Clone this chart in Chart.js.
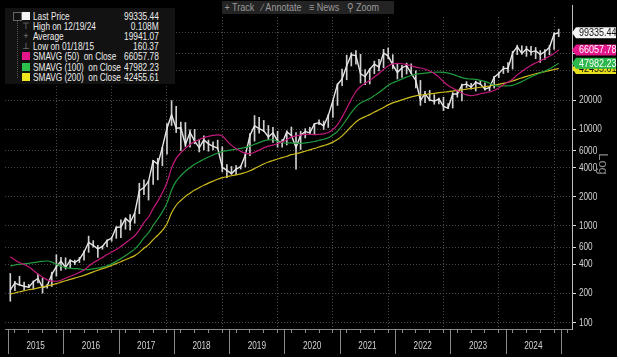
<!DOCTYPE html>
<html>
<head>
<meta charset="utf-8">
<script src="https://cdn.jsdelivr.net/npm/chart.js@4.4.1/dist/chart.umd.min.js"></script>
<style>
  html, body { margin: 0; padding: 0; background: #fff; }
  #wrap { position: absolute; left: 0; top: 0; width: 617px; height: 357px; background: #000; overflow: hidden; }
  #c { position: absolute; left: 0; top: 0; }
  .nar { display: inline-block; white-space: nowrap; transform: scaleX(0.75); transform-origin: left center; }
  .narR { display: inline-block; white-space: nowrap; transform: scaleX(0.76); transform-origin: right center; }
  #toolbar { position: absolute; left: 222px; top: 1px; height: 13px; width: 172px; background: #232323;
             color: #9a9a9a; font: 11px "Liberation Sans", Arial, sans-serif; line-height: 13px; }
  #toolbar .nar { transform: scaleX(0.82); }
  #legend { position: absolute; left: 5px; top: 8px; width: 170px; height: 76px; background: #121212;
            color: #ececec; font: 11px "Liberation Sans", Arial, sans-serif; }
  #legend .row { position: absolute; left: 0; width: 170px; height: 10px; line-height: 10px; }
  #legend .ico { position: absolute; left: 17px; top: 1px; width: 8px; height: 8px; }
  #legend .sym { position: absolute; left: 17px; top: 0; width: 8px; text-align: center; color: #888; font-size: 9px; }
  #legend .lab { position: absolute; left: 28px; top: 0; }
  #legend .val { position: absolute; right: 16px; top: 0; text-align: right; }
  #tree { position: absolute; left: 12px; top: 10px; width: 0; height: 60px; border-left: 1px dotted #555; }
  #treebox { position: absolute; left: 8px; top: 4px; width: 7px; height: 7px; border: 1px solid #666; background: #121212; }
</style>
</head>
<body>
<div id="wrap">
  <canvas id="c" width="617" height="357"></canvas>
  <div id="toolbar"><span class="nar">&nbsp;+ Track &nbsp;&nbsp;&#8725; Annotate &nbsp;&nbsp;&#8801; News &nbsp;&nbsp;&#9906; Zoom</span></div>
  <div id="legend"><div id="tree"></div><div id="treebox"></div></div>
</div>
<script>
// monthly bars, Jan 2015 .. Dec 2024
var startYear = 2015;
var yearLabels = ["2015", "2016", "2017", "2018", "2019", "2020", "2021", "2022", "2023", "2024"];

var closes = [
  217, 254, 244, 236, 230, 263, 284, 230, 236, 314, 377, 430,
  369, 437, 416, 448, 531, 673, 624, 575, 609, 700, 745, 964,
  970, 1190, 1080, 1350, 2300, 2480, 2880, 4700, 4340, 6470, 10200, 14100,
  10200, 10300, 6900, 9250, 7500, 6400, 7730, 7030, 6630, 6370, 4020, 3740,
  3460, 3850, 4100, 5350, 8570, 10800, 10100, 9600, 8300, 9150, 7550, 7190,
  9350, 8600, 6440, 8660, 9460, 9140, 11350, 11650, 10780, 13800, 19700, 29000,
  33100, 45200, 58900, 57700, 37300, 35000, 41600, 47100, 43800, 61300, 57000, 46300,
  38500, 43200, 45500, 37700, 31800, 19800, 23300, 20000, 19400, 20500, 17200, 16500,
  23100, 23100, 28500, 29200, 27200, 30500, 29200, 25900, 27000, 34500, 37700, 42300,
  42600, 61200, 71300, 60600, 67500, 62700, 64600, 59000, 63300, 70200, 96400, 99335
];
var highs = [
  320, 265, 300, 260, 247, 268, 316, 285, 245, 330, 500, 470,
  465, 445, 440, 470, 550, 780, 700, 625, 615, 715, 750, 975,
  1150, 1200, 1300, 1350, 2750, 2990, 2920, 4760, 4980, 6470, 11400, 19700,
  17200, 11800, 11700, 9800, 9950, 7760, 8500, 7700, 7400, 7680, 6550, 4300,
  4100, 4200, 4150, 5600, 9000, 13800, 13200, 12300, 10900, 10400, 9500, 7800,
  9600, 10500, 9200, 9500, 10100, 10400, 11450, 12500, 12100, 14100, 19900, 29300,
  41900, 58300, 61700, 64800, 59500, 41300, 42300, 50500, 52900, 67000, 69000, 59000,
  47900, 45800, 48200, 47400, 40000, 31900, 24600, 25200, 22700, 20900, 21400, 18400,
  23900, 25200, 29200, 31000, 29800, 31400, 31800, 30200, 27500, 35200, 38400, 44700,
  48900, 64000, 73800, 72800, 71900, 72000, 70000, 65000, 66500, 73600, 99600, 108300
];
var lows = [
  165, 212, 240, 215, 228, 220, 255, 200, 225, 235, 300, 345,
  355, 365, 395, 415, 440, 530, 600, 470, 570, 605, 690, 740,
  750, 920, 900, 1060, 1330, 2100, 1840, 2680, 2980, 4170, 5500, 10900,
  9200, 6000, 6600, 6500, 7050, 5800, 6100, 5900, 6100, 6200, 3600, 3150,
  3400, 3400, 3850, 4050, 5300, 7500, 9100, 9400, 7800, 7300, 6500, 6500,
  6850, 8500, 3850, 6150, 8100, 8900, 8900, 11100, 9900, 10400, 13200, 17600,
  28100, 32400, 45000, 47000, 30000, 28800, 29300, 37400, 40000, 43300, 53500, 42000,
  33000, 34300, 37200, 37600, 26700, 17600, 18800, 19600, 18100, 18200, 15500, 16300,
  16500, 21400, 19600, 26900, 25900, 24800, 28900, 25300, 24900, 26600, 34100, 37600,
  38500, 41900, 59000, 59600, 56600, 58400, 53500, 49000, 52600, 58900, 66800, 90500
];
var sma50 = [
  477, 442, 415, 396, 376, 344, 316, 293, 275, 267, 266, 272,
  286, 300, 312, 329, 347, 381, 413, 440, 470, 502, 533, 566,
  608, 663, 722, 787, 907, 1075, 1230, 1506, 1798, 2194, 2784, 3965,
  4973, 5676, 6333, 6898, 7439, 7785, 8167, 8400, 8608, 8700, 8500, 7558,
  6779, 6296, 5875, 5642, 5550, 5767, 6058, 6392, 6658, 6817, 7067, 7367,
  7763, 8263, 8500, 8667, 8833, 8842, 8758, 8842, 8917, 9208, 9892, 11108,
  13300, 16350, 20325, 24492, 27583, 29775, 31825, 34658, 37600, 41433, 45100, 47383,
  47908, 47458, 46408, 45075, 43858, 42908, 41858, 39917, 37733, 34542, 30958, 28267,
  26533, 25067, 23642, 22608, 22250, 22533, 23242, 23700, 24242, 25067, 26650, 28792,
  30650, 32850, 36417, 39442, 42575, 45800, 48392, 51100, 53825, 56783, 60650, 66058
];
var sma100 = [
  383, 392, 398, 403, 408, 414, 422, 427, 431, 420, 399, 380,
  369, 361, 359, 357, 351, 351, 357, 363, 373, 385, 402, 427,
  456, 491, 529, 572, 644, 747, 846, 1005, 1172, 1391, 1712, 2347,
  2894, 3289, 3662, 3989, 4327, 4594, 4877, 5142, 5401, 5652, 5852, 5973,
  6085, 6197, 6316, 6460, 6662, 6961, 7252, 7539, 7730, 7757, 7470, 7222,
  7174, 7204, 7152, 7100, 7209, 7313, 7439, 7661, 7843, 8126, 8687, 9480,
  10828, 12670, 14813, 16983, 18591, 19687, 20709, 22270, 23904, 26057, 28374, 30152,
  31513, 32996, 34504, 35891, 36861, 37504, 37935, 38443, 38787, 38917, 38730, 37961,
  36826, 35470, 34061, 33296, 32935, 32657, 31978, 31191, 29817, 28465, 27913, 27987,
  28057, 28396, 29543, 30991, 32761, 34713, 36400, 38165, 39878, 41939, 44809, 47982
];
var sma200 = [
  196, 201, 207, 212, 217, 221, 227, 233, 238, 244, 251, 260,
  269, 278, 287, 296, 306, 319, 333, 346, 359, 372, 388, 405,
  424, 444, 466, 490, 529, 584, 636, 718, 796, 895, 1046, 1358,
  1628, 1824, 2009, 2170, 2339, 2475, 2620, 2758, 2893, 3027, 3139, 3214,
  3288, 3363, 3444, 3552, 3704, 3903, 4129, 4355, 4561, 4734, 4908, 5058,
  5232, 5433, 5571, 5713, 5901, 6095, 6291, 6531, 6748, 6989, 7330, 7783,
  8513, 9493, 10636, 11822, 12776, 13470, 14124, 15000, 15830, 16763, 17798, 18663,
  19359, 20074, 20802, 21550, 22087, 22472, 22798, 23143, 23457, 23802, 24105, 24395,
  24748, 25141, 25522, 25943, 26311, 26683, 27124, 27548, 27937, 28420, 29033, 29750,
  30526, 31450, 32717, 33926, 35133, 36324, 37422, 38476, 39398, 40335, 41385, 42456
];

var yTicks = [100, 200, 400, 600, 1000, 2000, 4000, 6000, 10000, 20000, 40000, 60000, 100000];
var yTickLabels = ["100", "200", "400", "600", "1000", "2000", "4000", "6000", "10000", "20000", "", "", ""];

var legendLabels = ["Last Price", "High on 12/19/24", "Average", "Low on 01/18/15",
                    "SMAVG (50)&nbsp; on Close", "SMAVG (100)&nbsp; on Close", "SMAVG (200)&nbsp; on Close"];
var legendValues = ["99335.44", "0.108M", "19941.07", "160.37", "66057.78", "47982.23", "42455.61"];
var tagLabels = ["99335.44", "66057.78", "47982.23", "42455.61"];

var colPrice = "#e6e6e6", col50 = "#c4197c", col100 = "#1f9a3c", col200 = "#cdbb1c";

//legend rows
var icons = [
  {box: "#f2f2f2"}, {sym: "\u22a4"}, {sym: "+"}, {sym: "\u22a5"},
  {box: "#e5168c"}, {box: "#2cc24c"}, {box: "#eee51e"}
];
var legend = document.getElementById("legend");
legendLabels.forEach(function(lab, i){
    var row = document.createElement("div");
    row.className = "row";
    row.style.top = (3 + i * 10.1) + "px";
    var ico = icons[i].box
        ? '<div class="ico" style="background:' + icons[i].box + '"></div>'
        : '<div class="sym">' + icons[i].sym + '</div>';
    row.innerHTML = ico + '<div class="lab"><span class="nar">' + lab + '</span></div>' +
                    '<div class="val"><span class="narR">' + legendValues[i] + '</span></div>';
    legend.appendChild(row);
});

function monthX(i){ return startYear + (i + 0.5) / 12; }
function pts(arr){ return arr.map(function(v, i){ return {x: monthX(i), y: v}; }); }

var quarterTicks = [];
for (var q = 0; q <= yearLabels.length * 4; q++) quarterTicks.push(startYear + q * 0.25);

var xMin = 2014.946, xMax = 2025.199;
var yMin = 85.2, yMax = 144700;

var fontFam = '"Liberation Sans", Arial, sans-serif';

function narrowText(c, txt, x, y, align){
    c.save();
    c.translate(x, y);
    c.scale(0.82, 1);
    c.textAlign = align;
    c.fillText(txt, 0, 0);
    c.restore();
}

//draws axis labels, year separators, axis extension, Log caption and the last value tags
var overlay = {
    id: "overlay",
    afterDraw: function(chart){
        var c = chart.ctx, xs = chart.scales.x, ys = chart.scales.y, area = chart.chartArea;
        c.save();
        c.strokeStyle = "#8a8a8a";
        c.lineWidth = 1;
        for (var k = 0; k <= yearLabels.length; k++){
            var px = Math.round(xs.getPixelForValue(startYear + k)) + 0.5;
            c.beginPath(); c.moveTo(px, area.bottom); c.lineTo(px, area.bottom + 25); c.stroke();
        }
        c.strokeStyle = "#bdbdbd";
        c.beginPath(); c.moveTo(area.right + 0.5, 5); c.lineTo(area.right + 0.5, area.top); c.stroke();

        c.font = "10px " + fontFam;
        c.textBaseline = "middle";
        c.fillStyle = "#d4d4d4";
        yearLabels.forEach(function(lab, k){
            narrowText(c, lab, xs.getPixelForValue(startYear + k + 0.5), area.bottom + 17, "center");
        });
        yTicks.forEach(function(v, i){
            if (yTickLabels[i]) narrowText(c, yTickLabels[i], area.right + 7, ys.getPixelForValue(v) + 0.5, "left");
        });

        c.fillStyle = "#8a8a8a";
        c.font = "13px " + fontFam;
        c.translate(603, 164);
        c.rotate(Math.PI / 2);
        c.textAlign = "center";
        c.fillText("Log", 0, 0);
        c.restore();

        var tags = [
            {v: sma200[sma200.length - 1], bg: "#e8df1c", fg: "#111", t: tagLabels[3]},
            {v: sma100[sma100.length - 1], bg: "#2cb84c", fg: "#fff", t: tagLabels[2]},
            {v: sma50[sma50.length - 1], bg: "#e3168a", fg: "#fff", t: tagLabels[1]},
            {v: closes[closes.length - 1], bg: "#f4f4f4", fg: "#111", t: tagLabels[0]}
        ];
        c.save();
        c.font = "11px " + fontFam;
        c.textBaseline = "middle";
        tags.forEach(function(tg){
            var y = ys.getPixelForValue(tg.v);
            var x0 = area.right + 3;
            c.fillStyle = tg.bg;
            c.beginPath();
            c.moveTo(area.right, y);
            c.lineTo(x0 + 1, y - 5.5);
            c.lineTo(616, y - 5.5);
            c.lineTo(616, y + 5.5);
            c.lineTo(x0 + 1, y + 5.5);
            c.closePath();
            c.fill();
            c.fillStyle = tg.fg;
            narrowText(c, tg.t, x0 + 4, y + 0.5, "left");
        });
        c.restore();
    }
};

var ctx = document.getElementById("c");

var chart = new Chart(ctx, {
    type: "line",
    data: {
        datasets: [
            { label: "SMAVG (50)", data: pts(sma50), borderColor: col50, borderWidth: 1.2,
              pointRadius: 0, cubicInterpolationMode: "monotone", order: 0 },
            { label: "SMAVG (100)", data: pts(sma100), borderColor: col100, borderWidth: 1.2,
              pointRadius: 0, cubicInterpolationMode: "monotone", order: 0 },
            { label: "SMAVG (200)", data: pts(sma200), borderColor: col200, borderWidth: 1.2,
              pointRadius: 0, cubicInterpolationMode: "monotone", order: 0 },
            { label: "Last Price", data: pts(closes), borderColor: colPrice, borderWidth: 1.4,
              pointRadius: 0, tension: 0, order: 1 },
            { type: "bar", label: "Range",
              data: lows.map(function(lo, i){ return {x: monthX(i), y: [lo, highs[i]]}; }),
              backgroundColor: "#cfcfcf", barThickness: 1, order: 2 }
        ]
    },
    options: {
        responsive: false,
        animation: false,
        devicePixelRatio: 1,
        layout: { padding: { left: 5, top: 17, right: 0, bottom: 0 } },
        plugins: { legend: { display: false }, tooltip: { enabled: false } },
        scales: {
            x: {
                type: "linear", min: xMin, max: xMax, offset: false,
                afterBuildTicks: function(s){ s.ticks = quarterTicks.map(function(v){ return {value: v}; }); },
                afterFit: function(s){ s.height = 28; },
                grid: {
                    color: function(c){ return (c.tick && Number.isInteger(c.tick.value)) ? "#4a4a4a" : "rgba(0,0,0,0)"; },
                    tickColor: "#8a8a8a", tickLength: 4
                },
                border: { display: true, color: "#8a8a8a", width: 1, dash: [1, 2] },
                ticks: { display: false, autoSkip: false }
            },
            y: {
                type: "logarithmic", position: "right", min: yMin, max: yMax,
                afterBuildTicks: function(s){ s.ticks = yTicks.map(function(v){ return {value: v}; }); },
                afterFit: function(s){ s.width = 45; },
                grid: { color: "#4a4a4a", tickColor: "#e0e0e0", tickLength: 4 },
                border: { display: true, color: "#bdbdbd", width: 1, dash: [1, 2] },
                ticks: { display: false, autoSkip: false }
            }
        }
    },
    plugins: [overlay]
});
</script>
</body>
</html>
